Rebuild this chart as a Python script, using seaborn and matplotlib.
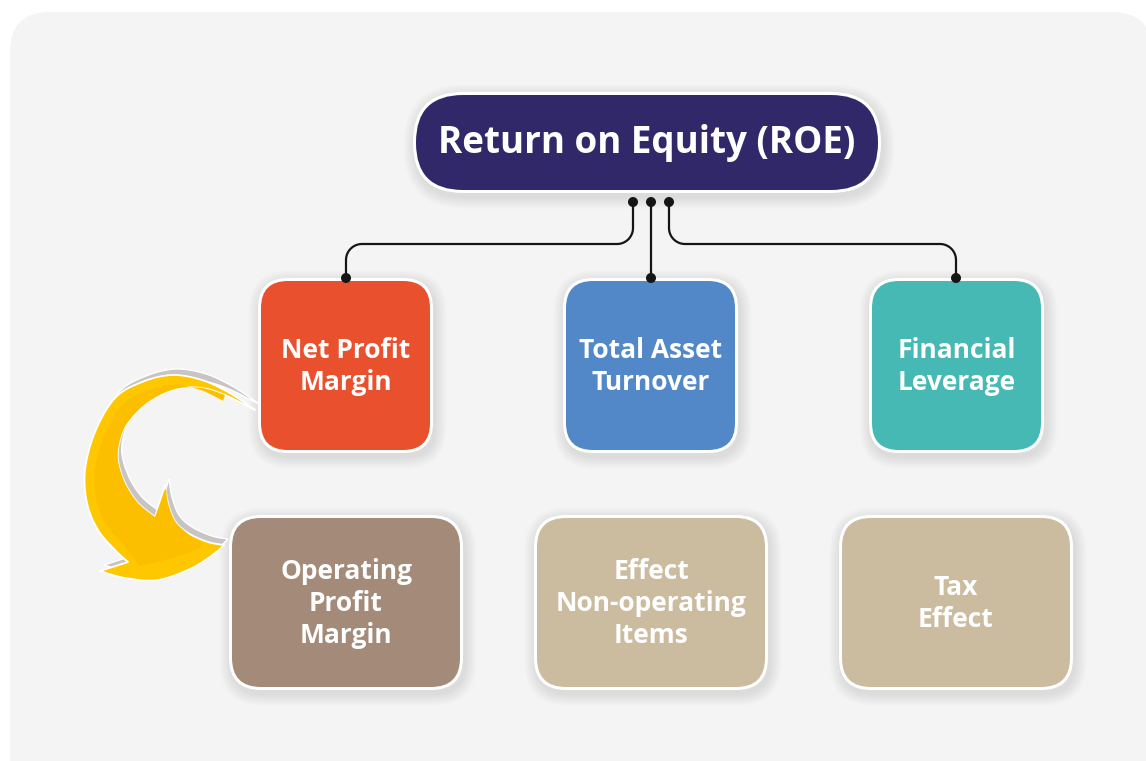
import numpy as np
import matplotlib
matplotlib.use("Agg")
import matplotlib.pyplot as plt
from matplotlib.patches import FancyBboxPatch, Polygon, Circle
import seaborn as sns

sns.set_style("white")
plt.rcParams['font.family'] = ['Open Sans', 'DejaVu Sans']

# ---- content ----
root_label = "Return on Equity (ROE)"
top_labels = ["Net Profit\nMargin", "Total Asset\nTurnover", "Financial\nLeverage"]
bottom_labels = ["Operating\nProfit\nMargin", "Effect\nNon-operating\nItems", "Tax\nEffect"]

root_color = "#312869"
top_colors = ["#e8502e", "#5388c8", "#47b9b4"]
bottom_colors = ["#a38a79", "#cbbb9f", "#cbbb9f"]

W, H = 1146, 761
fig = plt.figure(figsize=(W / 100, H / 100), dpi=100)
ax = fig.add_axes([0, 0, 1, 1])
ax.set_xlim(0, W)
ax.set_ylim(H, 0)
ax.axis("off")
fig.patch.set_facecolor("white")

# background panel
ax.add_patch(FancyBboxPatch((10, 12), 1142, 800, boxstyle="round,pad=0,rounding_size=40",
                            facecolor="#f4f4f4", edgecolor="none", zorder=0))


def shadow(x, y, w, h, r):
    for i in range(8):
        p = 1.5 * i + 1
        ax.add_patch(FancyBboxPatch((x - p + 2, y - p + 4), w + 2 * p, h + 2 * p,
                                    boxstyle=f"round,pad=0,rounding_size={r + p}",
                                    facecolor="black", edgecolor="none", alpha=0.012, zorder=1))


def box(x, y, w, h, r, color, label, fs, border=3):
    shadow(x, y, w, h, r)
    ax.add_patch(FancyBboxPatch((x, y), w, h, boxstyle=f"round,pad=0,rounding_size={r}",
                                facecolor="white", edgecolor="none", zorder=2))
    ax.add_patch(FancyBboxPatch((x + border, y + border), w - 2 * border, h - 2 * border,
                                boxstyle=f"round,pad=0,rounding_size={r - border}",
                                facecolor=color, edgecolor="none", zorder=3))
    ax.text(x + w / 2, y + h / 2 + 1, label, ha="center", va="center", color="white",
            fontsize=fs, fontweight="bold", linespacing=1.22, zorder=4)


# root
box(413, 92, 468, 101, 50, root_color, root_label, 26.5)

# top row
top_x = [258, 563, 869]
for x, c, lab in zip(top_x, top_colors, top_labels):
    box(x, 278, 175, 175, 30, c, lab, 19)

# bottom row
bot_x = [229, 534, 839]
for x, c, lab in zip(bot_x, bottom_colors, bottom_labels):
    box(x, 515, 234, 175, 32, c, lab, 19)

# connectors
lc = "#151515"
lw = 1.6


def arc(cx, cy, r, a0, a1, n=20):
    t = np.radians(np.linspace(a0, a1, n))
    return cx + r * np.cos(t), cy + r * np.sin(t)


R = 16
ax_, ay_ = arc(633 - R, 244 - R, R, 0, 90)
bx_, by_ = arc(346 + R, 244 + R, R, 270, 180)
X = np.concatenate([[633, 633], ax_, bx_, [346]])
Y = np.concatenate([[202, 244 - R], ay_, by_, [278]])
ax.plot(X, Y, color=lc, lw=lw, solid_capstyle="round", zorder=5)
ax.plot([651, 651], [202, 278], color=lc, lw=lw, zorder=5)
ax_, ay_ = arc(669 + R, 244 - R, R, 180, 90)
bx_, by_ = arc(956 - R, 244 + R, R, 270, 360)
X = np.concatenate([[669, 669], ax_, bx_, [956]])
Y = np.concatenate([[202, 244 - R], ay_, by_, [278]])
ax.plot(X, Y, color=lc, lw=lw, solid_capstyle="round", zorder=5)
for (cx, cy) in [(633, 202), (651, 202), (669, 202), (346, 278), (651, 278), (956, 278)]:
    ax.add_patch(Circle((cx, cy), 4.3, color=lc, zorder=6))


def smooth(p, n=8):
    """Catmull-Rom smoothing of an open outline segment."""
    p = np.asarray(p, dtype=float)
    q = np.vstack([p[0], p, p[-1]])
    out = []
    for i in range(1, len(q) - 2):
        p0, p1, p2, p3 = q[i - 1], q[i], q[i + 1], q[i + 2]
        for t in np.linspace(0, 1, n, endpoint=False):
            t2, t3 = t * t, t * t * t
            out.append(0.5 * ((2 * p1) + (-p0 + p2) * t + (2 * p0 - 5 * p1 + 4 * p2 - p3) * t2
                              + (-p0 + 3 * p1 - 3 * p2 + p3) * t3))
    out.append(p[-1])
    return np.array(out)


# curved arrow (outline)
outer_arc = [(255, 410), (248, 405), (228, 392), (202, 380), (172, 375), (142, 382),
             (115, 398), (95, 432), (85, 470), (87, 503), (98, 530), (115, 550), (128, 562)]
lower_head = [(100, 571), (125, 578), (158, 580), (192, 568), (215, 553), (224, 545)]
upper_head = [(224, 545), (208, 542), (188, 533), (175, 521), (168, 503), (165, 485)]
inner_arc = [(155, 517), (138, 503), (125, 483), (118, 460), (120, 440), (128, 422),
             (148, 402), (175, 389), (202, 388), (225, 395), (245, 405), (255, 410)]
pts = np.vstack([smooth(outer_arc), smooth(lower_head), smooth(upper_head), smooth(inner_arc)])

sh = pts + np.array([4.0, -6.0])
ax.add_patch(Polygon(sh, closed=True, facecolor="#c8c4c4", edgecolor="white", lw=1.0, zorder=6))
ax.add_patch(Polygon(pts, closed=True, facecolor="#fec700", edgecolor="white", lw=1.3,
                     joinstyle="round", zorder=7))

# slightly darker inner band
ctr = np.array([185.0, 468.0])
ob = smooth(outer_arc[2:12])
d = ctr - ob
ob = ob + 10 * d / np.linalg.norm(d, axis=1, keepdims=True)
bottom_band = smooth([(140, 566), (175, 557), (202, 546), (188, 534), (175, 521),
                      (168, 503), (166, 488)])
ib = smooth(inner_arc[:10])
band = np.vstack([ob, bottom_band, [(155, 517)], ib])
ax.add_patch(Polygon(band, closed=True, facecolor="#fbbf00", edgecolor="none", zorder=7.5))

fig.savefig("out.png", dpi=100, facecolor="white")
